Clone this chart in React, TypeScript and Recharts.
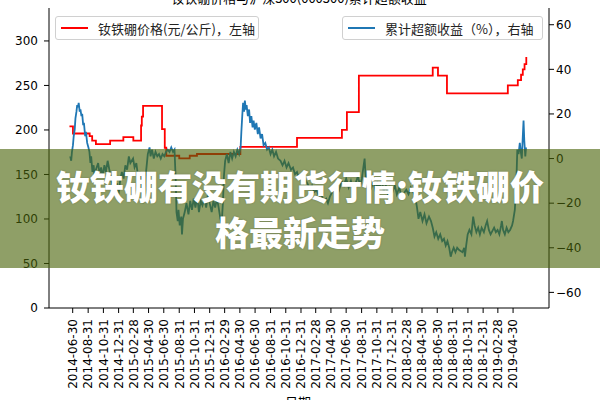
import React from "react";
import { LineChart, Line, XAxis, YAxis } from "recharts";

const TITLE = "钕铁硼价格与沪深300(000300)累计超额收益";
const X_LABEL = "日期";
const BANNER_LINES = ["钕铁硼有没有期货行情:钕铁硼价", "格最新走势"];
const PRICE_LABEL = "钕铁硼价格(元/公斤)，左轴";
const EXCESS_LABEL = "累计超额收益（%），右轴";

const dateTicks = [
  "2014-06-30", "2014-08-31", "2014-10-31", "2014-12-31", "2015-02-28", "2015-04-30",
  "2015-06-30", "2015-08-31", "2015-10-31", "2015-12-31", "2016-02-29", "2016-04-30",
  "2016-06-30", "2016-08-31", "2016-10-31", "2016-12-31", "2017-02-28", "2017-04-30",
  "2017-06-30", "2017-08-31", "2017-10-31", "2017-12-31", "2018-02-28", "2018-04-30",
  "2018-06-30", "2018-08-31", "2018-10-31", "2018-12-31", "2019-02-28", "2019-04-30",
];
const dateRange = ["2014-03-27", "2019-09-21"];
const leftTicks = [0, 50, 100, 150, 200, 250, 300];
const rightTicks = [-60, -40, -20, 0, 20, 40, 60];

// price steps (value holds until next date)
const priceDates = [
  "2014-06-17", "2014-07-01", "2014-09-06", "2014-09-16", "2014-10-01", "2014-11-27",
  "2015-01-19", "2015-02-28", "2015-03-31", "2015-04-03", "2015-04-08", "2015-06-23",
  "2015-07-04", "2015-07-10", "2015-08-31", "2015-10-12", "2015-11-10", "2016-05-02",
  "2016-12-15", "2017-06-13", "2017-07-03", "2017-08-20", "2018-06-12", "2018-07-03",
  "2018-08-08", "2019-04-09", "2019-05-19", "2019-06-01", "2019-06-08", "2019-06-15",
  "2019-06-22",
];
const priceValues = [
  204, 196, 193, 188, 184, 188,
  192, 188, 205, 215, 227, 201,
  180, 171, 168, 171, 173, 181,
  191, 200, 220, 261, 270, 261,
  241, 250, 256, 262, 268, 274,
  282,
];

const excessDates = [
  "2014-06-20", "2014-06-24", "2014-06-27", "2014-07-01", "2014-07-04", "2014-07-08",
  "2014-07-11", "2014-07-15", "2014-07-18", "2014-07-21", "2014-07-24", "2014-07-28",
  "2014-07-31", "2014-08-04", "2014-08-07", "2014-08-11", "2014-08-14", "2014-08-19",
  "2014-08-22", "2014-08-27", "2014-09-01", "2014-09-05", "2014-09-09", "2014-09-12",
  "2014-09-17", "2014-09-22", "2014-09-26", "2014-10-01", "2014-10-10", "2014-10-16",
  "2014-10-22", "2014-10-28", "2014-11-04", "2014-11-10", "2014-11-17", "2014-11-24",
  "2014-12-01", "2014-12-08", "2014-12-12", "2014-12-18", "2014-12-24", "2014-12-30",
  "2015-01-06", "2015-01-13", "2015-01-20", "2015-01-27", "2015-02-03", "2015-02-10",
  "2015-02-16", "2015-02-27", "2015-03-05", "2015-03-12", "2015-03-19", "2015-03-26",
  "2015-04-02", "2015-04-09", "2015-04-14", "2015-04-20", "2015-04-27", "2015-05-04",
  "2015-05-08", "2015-05-14", "2015-05-21", "2015-05-28", "2015-06-04", "2015-06-11",
  "2015-06-18", "2015-06-25", "2015-07-02", "2015-07-09", "2015-07-16", "2015-07-23",
  "2015-07-30", "2015-08-06", "2015-08-12", "2015-08-17", "2015-08-20", "2015-08-25",
  "2015-08-28", "2015-09-02", "2015-09-08", "2015-09-11", "2015-09-15", "2015-09-22",
  "2015-09-29", "2015-10-07", "2015-10-14", "2015-10-21", "2015-10-28", "2015-11-04",
  "2015-11-11", "2015-11-18", "2015-11-25", "2015-12-02", "2015-12-10", "2015-12-17",
  "2015-12-24", "2015-12-31", "2016-01-08", "2016-01-15", "2016-01-22", "2016-01-29",
  "2016-02-05", "2016-02-12", "2016-02-17", "2016-02-22", "2016-02-26", "2016-03-02",
  "2016-03-09", "2016-03-16", "2016-03-23", "2016-03-30", "2016-04-06", "2016-04-13",
  "2016-04-20", "2016-04-27", "2016-05-03", "2016-05-06", "2016-05-10", "2016-05-13",
  "2016-05-17", "2016-05-20", "2016-05-24", "2016-05-27", "2016-06-01", "2016-06-06",
  "2016-06-10", "2016-06-15", "2016-06-20", "2016-06-24", "2016-06-29", "2016-07-05",
  "2016-07-11", "2016-07-16", "2016-07-22", "2016-07-28", "2016-08-03", "2016-08-10",
  "2016-08-17", "2016-08-24", "2016-08-31", "2016-09-07", "2016-09-14", "2016-09-22",
  "2016-09-30", "2016-10-10", "2016-10-18", "2016-10-26", "2016-11-03", "2016-11-11",
  "2016-11-21", "2016-11-29", "2016-12-07", "2016-12-15", "2016-12-23", "2017-01-03",
  "2017-01-12", "2017-01-20", "2017-02-03", "2017-02-13", "2017-02-22", "2017-03-03",
  "2017-03-13", "2017-03-22", "2017-03-31", "2017-04-11", "2017-04-18", "2017-04-26",
  "2017-05-05", "2017-05-15", "2017-05-24", "2017-06-02", "2017-06-12", "2017-06-21",
  "2017-06-30", "2017-07-10", "2017-07-19", "2017-07-28", "2017-08-07", "2017-08-16",
  "2017-08-25", "2017-09-01", "2017-09-07", "2017-09-12", "2017-09-15", "2017-09-20",
  "2017-09-27", "2017-10-09", "2017-10-17", "2017-10-25", "2017-11-02", "2017-11-10",
  "2017-11-20", "2017-11-28", "2017-12-06", "2017-12-14", "2017-12-22", "2018-01-02",
  "2018-01-11", "2018-01-19", "2018-01-29", "2018-02-07", "2018-02-26", "2018-03-07",
  "2018-03-16", "2018-03-26", "2018-04-03", "2018-04-10", "2018-04-16", "2018-04-23",
  "2018-05-02", "2018-05-10", "2018-05-18", "2018-05-28", "2018-06-05", "2018-06-12",
  "2018-06-19", "2018-06-26", "2018-07-04", "2018-07-12", "2018-07-20", "2018-07-27",
  "2018-08-03", "2018-08-10", "2018-08-17", "2018-08-23", "2018-08-28", "2018-09-04",
  "2018-09-11", "2018-09-18", "2018-09-26", "2018-10-09", "2018-10-16", "2018-10-19",
  "2018-10-24", "2018-10-30", "2018-11-06", "2018-11-14", "2018-11-21", "2018-11-27",
  "2018-12-04", "2018-12-11", "2018-12-18", "2018-12-25", "2019-01-03", "2019-01-10",
  "2019-01-16", "2019-01-23", "2019-01-30", "2019-02-13", "2019-02-20", "2019-02-27",
  "2019-03-06", "2019-03-13", "2019-03-16", "2019-03-21", "2019-03-28", "2019-04-04",
  "2019-04-11", "2019-04-18", "2019-04-26", "2019-04-30", "2019-05-07", "2019-05-13",
  "2019-05-17", "2019-05-22", "2019-05-27", "2019-05-31", "2019-06-04", "2019-06-08",
  "2019-06-11", "2019-06-14", "2019-06-18", "2019-06-21",
];
const excessValues = [
  1, -1, 3, 6, 10, 13,
  18, 21, 24, 23, 25, 21,
  22, 19, 20, 15, 16, 10,
  12, 7, 5, 3, -2, 1,
  -6, -3, -9, -5, -2, -7,
  -4, -8, -3, -6, -1, -5,
  -9, -13, -8, -15, -11, -17,
  -10, -6, -9, -3, -5, 1,
  -2, 0, -4, -2, -8, -6,
  -12, -20, -14, -6, 2, 5,
  1, 4, 0, 3, 1, 2,
  0, 2, 1, 3, 4, 3,
  5, 3, 4, -10, -24, -28,
  -23, -30, -26, -34, -27, -24,
  -20, -25, -19, -23, -18, -22,
  -17, -24, -19, -21, -18, -22,
  -16, -20, -24, -19, -22, -18,
  -22, -27, -29, -20, -8, -1,
  2, -2, 3, 0, 3, 1,
  4, 2, 5, 12, 20, 25,
  21, 26, 22, 24, 19, 22,
  16, 19, 14, 17, 13, 16,
  11, 14, 9, 11, 6, 7,
  4, 5, 2, 4, 1, 3,
  0, -1, -3, -1, -4, -2,
  -5, -4, -7, -6, -9, -8,
  -11, -10, -13, -12, -15, -14,
  -17, -16, -19, -18, -20, -17,
  -15, -13, -11, -14, -10, -12,
  -9, -13, -10, -14, -11, -8,
  -12, -9, -4, 0, -6, -11,
  -9, -13, -10, -14, -11, -13,
  -10, -15, -12, -16, -13, -15,
  -12, -16, -13, -17, -14, -16,
  -13, -15, -17, -22, -27, -24,
  -28, -25, -29, -26, -28, -31,
  -35, -33, -36, -34, -37, -36,
  -39, -37, -40, -44, -42, -40,
  -42, -40, -41, -42, -40, -44,
  -39, -34, -32, -34, -26, -30,
  -33, -31, -34, -31, -33, -30,
  -28, -32, -34, -31, -33, -32,
  -34, -30, -28, -32, -34, -31,
  -33, -32, -30, -28, -23, -11,
  4, 2, 7, 3, 0, 10,
  17, 8, 1, 5,
];

const toTs = (s: string) => Date.parse(s + "T00:00:00Z");
const fmtDate = (v: number) => new Date(v).toISOString().slice(0, 10);
const fmtNum = (v: number) => (v < 0 ? "\u2212" + Math.abs(v) : String(v));

const priceData = priceDates.map((d, i) => ({ t: toTs(d), price: priceValues[i] }));
const excessData = excessDates.map((d, i) => ({ t: toTs(d), excess: excessValues[i] }));

const tickFont = { fontSize: 12, fill: "#000", fontFamily: "DejaVu Sans" };
const cjk = '"Noto Sans CJK SC", sans-serif';

function DateTick({ x, y, payload }: any) {
  return (
    <text
      x={x}
      y={y}
      transform={`rotate(-90 ${x} ${y})`}
      textAnchor="end"
      dy="0.36em"
      {...tickFont}
    >
      {fmtDate(payload.value)}
    </text>
  );
}

function LegendBox({ left, width, color, label }: any) {
  return (
    <div
      style={{
        position: "absolute",
        left,
        top: 16,
        width,
        height: 24,
        boxSizing: "border-box",
        border: "1px solid #d0d0d0",
        borderRadius: 3,
        background: "rgba(255,255,255,0.85)",
        display: "flex",
        alignItems: "center",
      }}
    >
      <div style={{ width: 27, height: 2, background: color, marginLeft: 5, marginRight: 10 }} />
      <span style={{ fontFamily: cjk, fontSize: 13, color: "#222", whiteSpace: "nowrap" }}>{label}</span>
    </div>
  );
}

export default function App() {
  return (
    <div style={{ position: "absolute", left: 0, top: 0, width: 600, height: 400, background: "#fff", overflow: "hidden" }}>
      <LineChart width={600} height={400} margin={{ top: 8, right: 0, bottom: 0, left: 0 }}>
        <XAxis
          dataKey="t"
          type="number"
          domain={dateRange.map(toTs)}
          ticks={dateTicks.map(toTs)}
          interval={0}
          allowDataOverflow
          height={92}
          tickSize={5}
          tickMargin={6}
          tick={<DateTick />}
          stroke="#000"
        />
        <XAxis xAxisId="top" orientation="top" dataKey="t" type="number" height={0} tick={false} tickLine={false} stroke="#000" />
        <YAxis
          yAxisId="left"
          orientation="left"
          width={49}
          type="number"
          domain={[0, 337]}
          ticks={leftTicks}
          interval={0}
          allowDataOverflow
          tickSize={5}
          tickMargin={6}
          tick={tickFont}
          stroke="#000"
        />
        <YAxis
          yAxisId="right"
          orientation="right"
          width={51}
          type="number"
          domain={[-67, 67.5]}
          ticks={rightTicks}
          interval={0}
          allowDataOverflow
          tickSize={5}
          tickMargin={2}
          tick={tickFont}
          tickFormatter={fmtNum}
          stroke="#000"
        />
        <Line
          data={priceData}
          dataKey="price"
          yAxisId="left"
          type="stepAfter"
          stroke="#ff0000"
          strokeWidth={1.8}
          dot={false}
          isAnimationActive={false}
        />
        <Line
          data={excessData}
          dataKey="excess"
          yAxisId="right"
          type="linear"
          stroke="#1f77b4"
          strokeWidth={1.8}
          dot={false}
          isAnimationActive={false}
        />
      </LineChart>

      <svg width={600} height={400} style={{ position: "absolute", left: 0, top: 0, pointerEvents: "none" }}>
        <text x={299} y={2.5} textAnchor="middle" fontFamily={cjk} fontSize={13} fill="#000">
          {TITLE}
        </text>
        <text x={298} y={407} textAnchor="middle" fontFamily={cjk} fontSize={13} fill="#000">
          {X_LABEL}
        </text>
      </svg>

      <LegendBox left={55} width={204} color="#ff0000" label={PRICE_LABEL} />
      <LegendBox left={342} width={201} color="#1f77b4" label={EXCESS_LABEL} />

      <div
        style={{
          position: "absolute",
          left: 0,
          top: 149,
          width: 600,
          height: 119,
          background: "rgba(75,100,10,0.62)",
          display: "flex",
          flexDirection: "column",
          justifyContent: "center",
          alignItems: "center",
          color: "#fff",
          fontFamily: cjk,
          fontWeight: 900,
          fontSize: 34,
          lineHeight: "46px",
          textShadow: "0 0 2px rgba(0,0,0,0.25)",
        }}
      >
        {BANNER_LINES.map((l) => (
          <div key={l} style={{ whiteSpace: "nowrap" }}>{l}</div>
        ))}
      </div>
    </div>
  );
}
